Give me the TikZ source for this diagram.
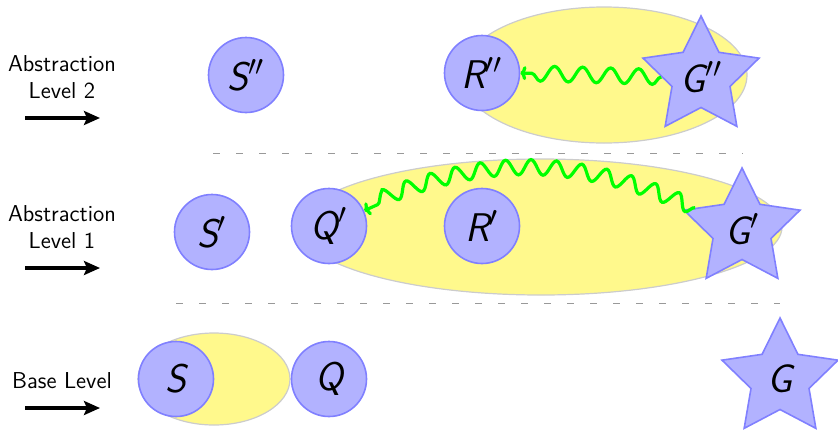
\documentclass[tikz,border=0pt]{standalone}
\usetikzlibrary{shapes.geometric,decorations.pathmorphing,arrows.meta}
\begin{document}
\begin{tikzpicture}[x=0.5pt,y=0.5pt,
 state/.style={circle,draw=blue!50,fill=blue!30,line width=0.8pt,minimum size=37.5pt,inner sep=0pt,font=\fontsize{20}{24}\selectfont\sffamily\itshape},
 goal/.style={star,star points=5,star point ratio=2,draw=blue!50,fill=blue!30,line width=0.8pt,minimum size=61pt,inner sep=0pt,font=\fontsize{20}{24}\selectfont\sffamily\itshape},
 region/.style={ellipse,draw=black!20,fill=yellow!45,line width=0.6pt,inner sep=0pt},
 lvl/.style={font=\fontsize{11.5}{13.5}\selectfont\sffamily,align=center},
 lvlarrow/.style={-{Stealth[length=8pt,width=7pt,inset=1.5pt]},line width=1.6pt},
 plan/.style={green,line width=1.6pt,-{To[length=3pt,width=7pt]},decorate,decoration={snake,amplitude=3.8pt,segment length=#1,post length=5pt}},
 plan/.default=13pt,
 sep/.style={gray!80,dash pattern=on 3.5pt off 8pt,line width=0.5pt}]
\useasboundingbox (0,0) rectangle (838,430);
% regions
\node[region,minimum width=143pt,minimum height=68pt] (E2) at (604,355) {};
\node[region,minimum width=241pt,minimum height=68pt] (E1) at (541,203) {};
\node[region,minimum width=76pt,minimum height=46pt] (E0) at (214,51) {};
% level 2
\node[state] (S2) at (246,355) {S$''$};
\node[state] (R2) at (482,357) {R$''$};
\node[goal] (G2) at (701,353) {G$''$};
% level 1
\node[state] (S1) at (212,198) {S$'$};
\node[state] (Q1) at (329,204) {Q$'$};
\node[state] (R1) at (482,204) {R$'$};
\node[goal] (G1) at (742,201) {G$'$};
% base level
\node[state] (S0) at (176,51) {S};
\node[state] (Q0) at (329,51) {Q};
\node[goal] (G0) at (780,51) {G};
% plans
\draw[plan=14pt] (G2.west) -- (R2.east);
\draw[plan=12.5pt] (G1) to[bend right=24] (Q1);
% separators
\coordinate (d2a) at (213,277); \coordinate (d2b) at (743,277);
\coordinate (d1a) at (176,127); \coordinate (d1b) at (780,127);
\draw[sep] (d2a) -- (d2b);
\draw[sep] (d1a) -- (d1b);
% level labels
\node[lvl] (L2) at (62,353) {Abstraction\\Level 2};
\node[lvl] (L1) at (62,203) {Abstraction\\Level 1};
\node[lvl] (L0) at (62,49) {Base Level};
\coordinate (a2s) at (25,312); \coordinate (a2e) at (100,312);
\coordinate (a1s) at (25,162); \coordinate (a1e) at (100,162);
\coordinate (a0s) at (25,22); \coordinate (a0e) at (100,22);
\draw[lvlarrow] (a2s) -- (a2e);
\draw[lvlarrow] (a1s) -- (a1e);
\draw[lvlarrow] (a0s) -- (a0e);
\end{tikzpicture}
\end{document}
